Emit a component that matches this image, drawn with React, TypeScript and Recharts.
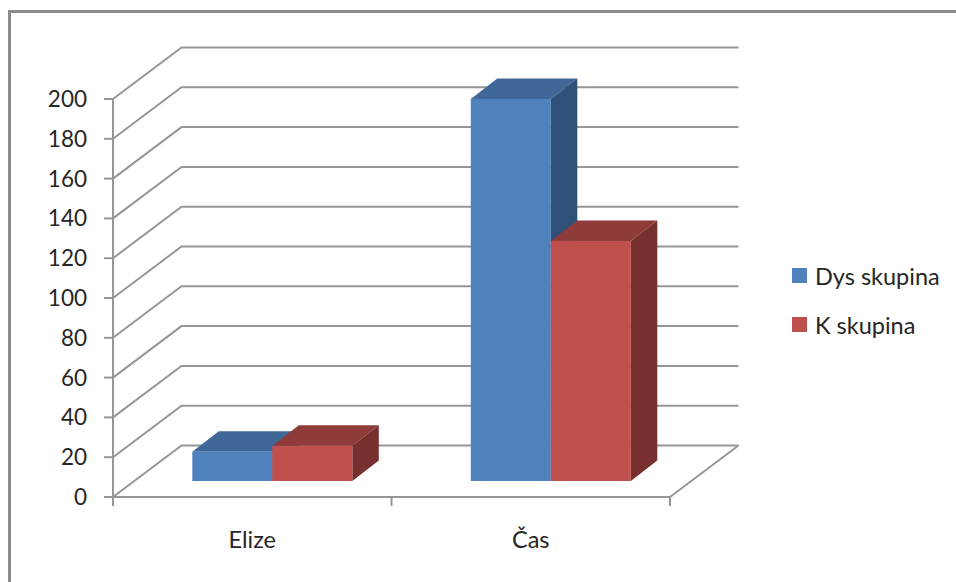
import { BarChart, Bar, CartesianGrid, Legend, XAxis, YAxis } from "recharts";

const categories = ["Elize", "Čas"];
const dysValues = [14.7, 192];
const kValues = [17.7, 120.6];
const valueTicks = [0, 20, 40, 60, 80, 100, 120, 140, 160, 180, 200];

const seriesNames = ["Dys skupina", "K skupina"];
const seriesColors = ["#4F81BD", "#C0504D"];

const rows = categories.map((name, i) => ({
  name,
  dys: dysValues[i],
  k: kValues[i],
}));

const FONT = "Lato, sans-serif";
const TEXT = "#262626";
const LINE = "#969696";

const CHART_WIDTH = 956;
const CHART_HEIGHT = 582;
const MARGIN = { top: 99, right: 286, bottom: 0, left: 33 };
const Y_AXIS_WIDTH = 80;

// oblique projection of the back wall and of the bar depth
const WALL_DX = 68.5;
const WALL_DY = 51.5;
const BAR_SHIFT_X = 20.3;
const BAR_SHIFT_Y = 16;
const BAR_DX = 26.5;
const BAR_DY = 20.5;

const TICK_LENGTH = 9;
const bandWidth =
  (CHART_WIDTH - MARGIN.left - MARGIN.right - Y_AXIS_WIDTH) / categories.length;

function wallLine(props: any) {
  const { x1, x2, y1, index } = props;
  const backY = y1 - WALL_DY;
  const isFloor = y1 > 490;
  return (
    <g key={`wall-${index ?? y1}`}>
      <polyline
        points={`${x1},${y1} ${x1 + WALL_DX},${backY} ${x2 + WALL_DX},${backY}`}
        fill="none"
        stroke={LINE}
        strokeWidth={2}
      />
      {isFloor && (
        <line x1={x2} y1={y1} x2={x2 + WALL_DX} y2={backY} stroke={LINE} strokeWidth={2} />
      )}
    </g>
  );
}

// category label plus the tick marks that sit between the categories
function CategoryTick(props: any) {
  const { x, y, index, payload } = props;
  const edges = index === categories.length - 1 ? [-0.5, 0.5] : [-0.5];
  return (
    <g>
      {edges.map((edge) => (
        <line
          key={edge}
          x1={x + edge * bandWidth}
          x2={x + edge * bandWidth}
          y1={y - TICK_LENGTH - 24}
          y2={y - 24}
          stroke={LINE}
          strokeWidth={2}
        />
      ))}
      <text
        x={x}
        y={y}
        textAnchor="middle"
        dominantBaseline="hanging"
        fontFamily={FONT}
        fontSize={23.5}
        fill={TEXT}
      >
        {payload.value}
      </text>
    </g>
  );
}

function makeBox(front: string, top: string, side: string) {
  return function Box(props: any) {
    const { x, y, width, height } = props;
    const left = x + BAR_SHIFT_X;
    const right = left + width;
    const topY = y - BAR_SHIFT_Y;
    const bottom = topY + height;
    return (
      <g>
        <polygon
          points={`${left},${topY} ${left + BAR_DX},${topY - BAR_DY} ${right + BAR_DX},${topY - BAR_DY} ${right},${topY}`}
          fill={top}
        />
        <polygon
          points={`${right},${topY} ${right + BAR_DX},${topY - BAR_DY} ${right + BAR_DX},${bottom - BAR_DY} ${right},${bottom}`}
          fill={side}
        />
        <rect x={left} y={topY} width={width} height={height} fill={front} />
      </g>
    );
  };
}

function LegendBlock() {
  return (
    <div style={{ fontFamily: FONT, fontSize: 23.5, color: TEXT }}>
      {seriesNames.map((name, i) => (
        <div key={name} style={{ display: "flex", alignItems: "center", height: 49 }}>
          <span
            style={{
              width: 15,
              height: 15,
              marginRight: 8,
              background: seriesColors[i],
            }}
          />
          {name}
        </div>
      ))}
    </div>
  );
}

export default function App() {
  return (
    <div
      style={{
        position: "absolute",
        left: 0,
        top: 0,
        width: CHART_WIDTH,
        height: CHART_HEIGHT,
        background: "#fff",
        overflow: "hidden",
      }}
    >
      <div
        style={{
          position: "absolute",
          left: 8,
          top: 10,
          right: 0,
          bottom: 0,
          borderTop: "3px solid #8c8c8c",
          borderLeft: "3px solid #8c8c8c",
        }}
      />
      <BarChart
        width={CHART_WIDTH}
        height={CHART_HEIGHT}
        data={rows}
        barSize={80}
        barGap={0}
        margin={MARGIN}
      >
        <CartesianGrid vertical={false} horizontal={wallLine} />
        <XAxis
          dataKey="name"
          axisLine={{ stroke: LINE, strokeWidth: 2 }}
          tickLine={{ stroke: "none" }}
          tickSize={TICK_LENGTH}
          tickMargin={24}
          height={85}
          interval={0}
          tick={CategoryTick}
        />
        <YAxis
          width={Y_AXIS_WIDTH}
          domain={[0, 200]}
          ticks={valueTicks}
          interval={0}
          axisLine={{ stroke: LINE, strokeWidth: 2 }}
          tickLine={{ stroke: LINE, strokeWidth: 2 }}
          tickSize={TICK_LENGTH}
          tickMargin={17}
          tick={{ fontFamily: FONT, fontSize: 22.5, fill: TEXT }}
        />
        <Legend
          layout="vertical"
          verticalAlign="middle"
          align="center"
          content={LegendBlock}
          wrapperStyle={{ left: 792, top: 251, width: 164 }}
        />
        <Bar
          dataKey="dys"
          name={seriesNames[0]}
          fill={seriesColors[0]}
          shape={makeBox(seriesColors[0], "#3F6797", "#2F5078")}
          isAnimationActive={false}
        />
        <Bar
          dataKey="k"
          name={seriesNames[1]}
          fill={seriesColors[1]}
          shape={makeBox(seriesColors[1], "#8F3B39", "#78302E")}
          isAnimationActive={false}
        />
      </BarChart>
    </div>
  );
}
